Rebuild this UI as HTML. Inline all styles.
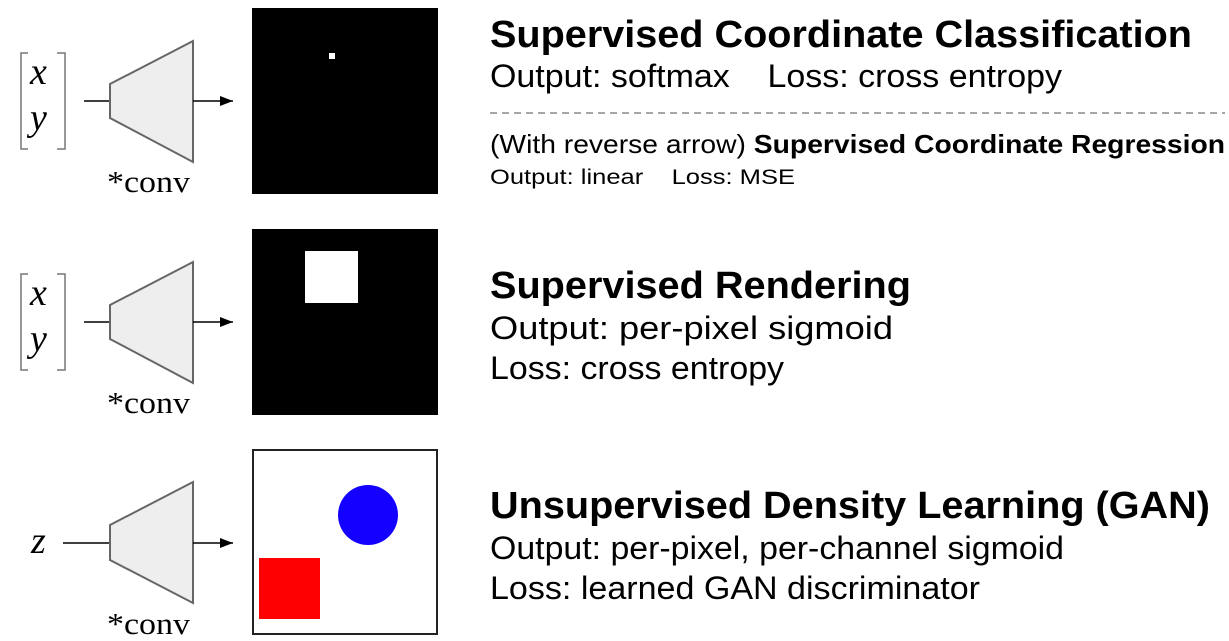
<!DOCTYPE html>
<html><head><meta charset="utf-8"><style>html,body{margin:0;padding:0;background:#fff}svg{display:block}</style></head>
<body>
<svg width="1229" height="641" viewBox="0 0 1229 641" xmlns="http://www.w3.org/2000/svg">
<defs><marker id="ah" markerWidth="13" markerHeight="10" refX="13" refY="5" orient="auto" markerUnits="userSpaceOnUse"><path d="M0,0 L13,5 L0,10 z" fill="#000"/></marker></defs>
<g font-family="Liberation Serif, serif">
<!-- row 1 -->
<path d="M28,53 H21 V149 H28 M57,53 H65 V149 H57" fill="none" stroke="#777" stroke-width="1.5"/>
<text x="30" y="84" font-size="38" font-style="italic">x</text>
<text x="30" y="130" font-size="38" font-style="italic">y</text>
<line x1="84" y1="101" x2="110" y2="101" stroke="#000" stroke-width="1.5"/>
<polygon points="110,84 193,41 193,162 110,118" fill="#eee" stroke="#666" stroke-width="2"/>
<line x1="193" y1="101" x2="233" y2="101" stroke="#000" stroke-width="1.5" marker-end="url(#ah)"/>
<text x="107" y="192" font-size="31" textLength="83" lengthAdjust="spacingAndGlyphs">*conv</text>
<rect x="252" y="8" width="186" height="186" fill="#000"/>
<rect x="329" y="53" width="6" height="6" fill="#fff"/>
<!-- row 2 -->
<path d="M28,274 H21 V370 H28 M57,274 H65 V370 H57" fill="none" stroke="#777" stroke-width="1.5"/>
<text x="30" y="305" font-size="38" font-style="italic">x</text>
<text x="30" y="351" font-size="38" font-style="italic">y</text>
<line x1="84" y1="322" x2="110" y2="322" stroke="#000" stroke-width="1.5"/>
<polygon points="110,305 193,262 193,383 110,339" fill="#eee" stroke="#666" stroke-width="2"/>
<line x1="193" y1="322" x2="233" y2="322" stroke="#000" stroke-width="1.5" marker-end="url(#ah)"/>
<text x="107" y="413" font-size="31" textLength="83" lengthAdjust="spacingAndGlyphs">*conv</text>
<rect x="252" y="229" width="186" height="186" fill="#000"/>
<rect x="305" y="251" width="53" height="52" fill="#fff"/>
<!-- row 3 -->
<text x="31" y="553" font-size="38" font-style="italic">z</text>
<line x1="63" y1="543" x2="110" y2="543" stroke="#000" stroke-width="1.5"/>
<polygon points="110,525 193,482 193,603 110,560" fill="#eee" stroke="#666" stroke-width="2"/>
<line x1="193" y1="543" x2="233" y2="543" stroke="#000" stroke-width="1.5" marker-end="url(#ah)"/>
<text x="107" y="634" font-size="31" textLength="83" lengthAdjust="spacingAndGlyphs">*conv</text>
<rect x="253" y="450" width="184" height="184" fill="#fff" stroke="#222" stroke-width="2"/>
<circle cx="368" cy="515" r="30" fill="#1400ff"/>
<rect x="259" y="558" width="61" height="61" fill="#f00"/>
</g>
<g font-family="Liberation Sans, Arial, sans-serif" fill="#000">
<text x="490" y="47" font-size="38" font-weight="bold" textLength="702" lengthAdjust="spacingAndGlyphs">Supervised Coordinate Classification</text>
<text x="490" y="87" font-size="32" textLength="572" lengthAdjust="spacingAndGlyphs" xml:space="preserve">Output: softmax    Loss: cross entropy</text>
<line x1="490" y1="113" x2="1225" y2="113" stroke="#888" stroke-width="1.5" stroke-dasharray="7,5"/>
<text x="490" y="153" font-size="26" textLength="735" lengthAdjust="spacingAndGlyphs">(With reverse arrow) <tspan font-weight="bold">Supervised Coordinate Regression</tspan></text>
<text x="490" y="184" font-size="21" textLength="305" lengthAdjust="spacingAndGlyphs" xml:space="preserve">Output: linear    Loss: MSE</text>
<text x="490" y="298" font-size="38" font-weight="bold" textLength="421" lengthAdjust="spacingAndGlyphs">Supervised Rendering</text>
<text x="490" y="339" font-size="32" textLength="403" lengthAdjust="spacingAndGlyphs">Output: per-pixel sigmoid</text>
<text x="490" y="379" font-size="32" textLength="294" lengthAdjust="spacingAndGlyphs">Loss: cross entropy</text>
<text x="490" y="518" font-size="38" font-weight="bold" textLength="720" lengthAdjust="spacingAndGlyphs">Unsupervised Density Learning (GAN)</text>
<text x="490" y="559" font-size="32" textLength="574" lengthAdjust="spacingAndGlyphs">Output: per-pixel, per-channel sigmoid</text>
<text x="490" y="599" font-size="32" textLength="490" lengthAdjust="spacingAndGlyphs">Loss: learned GAN discriminator</text>
</g>
</svg>
</body></html>
